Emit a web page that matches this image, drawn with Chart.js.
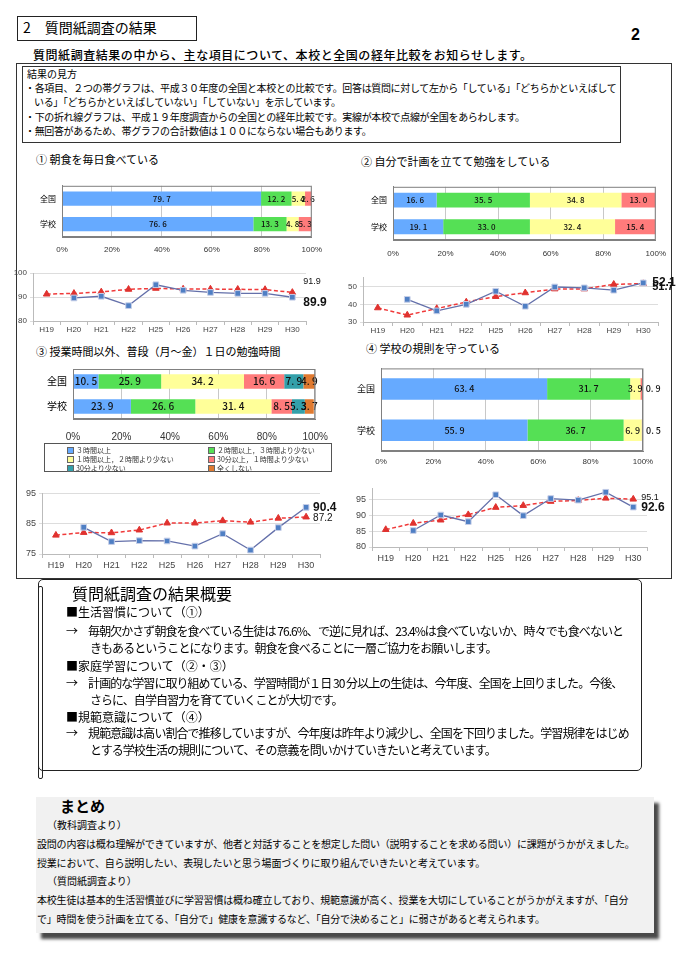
<!DOCTYPE html>
<html lang="ja">
<head>
<meta charset="utf-8">
<script src="https://cdn.jsdelivr.net/npm/chart.js@4/dist/chart.umd.min.js"></script>
<style>
body{margin:0;width:684px;height:965px;position:relative;background:#fff;font-family:"Noto Sans CJK JP",sans-serif;color:#000;overflow:hidden}
.a{position:absolute;white-space:nowrap;line-height:1}
.cv{position:absolute}
.lg{position:absolute;left:44px;top:443px;width:286px;height:27px;border:1px solid #555;font-size:7px;color:#333}
.lg span{position:absolute;white-space:nowrap;line-height:9px}
.lg i{display:inline-block;width:5px;height:5px;margin-right:2px;border:1px solid #666;vertical-align:-1px}
.t10{font-size:10px}
.t12{font-size:12px}
.s{letter-spacing:-0.95px}
.m{letter-spacing:-0.2px}
</style>
</head>
<body>
<script>
// rows of every bar chart
const rowLabels = ['全国', '学校'];
const years = ['H19', 'H20', 'H21', 'H22', 'H25', 'H26', 'H27', 'H28', 'H29', 'H30'];

// ① 朝食を毎日食べている
const q1National = [79.7, 12.2, 5.4, 2.6];
const q1School = [76.6, 13.3, 4.8, 5.3];
const q1TrendSchool = [null, 89.6, 90.3, 86.4, 95.1, 92.8, 91.9, 91.5, 91.5, 89.9];
const q1TrendNational = [91.2, 91.5, 92.1, 93.2, 93.6, 93.3, 93.3, 93.2, 93.1, 91.9];

// ② 自分で計画を立てて勉強をしている
const q2National = [16.6, 35.5, 34.8, 13.0];
const q2School = [19.1, 33.0, 32.4, 15.4];
const q2TrendSchool = [null, 42.8, 36.3, 40.0, 47.4, 38.9, 49.8, 49.3, 48.0, 52.1];
const q2TrendNational = [38.0, 33.9, 37.6, 41.3, 44.4, 46.5, 48.7, 48.7, 51.3, 51.7];

// ③ 1日の勉強時間
const q3Answers = ['３時間以上', '２時間以上，３時間より少ない', '１時間以上，２時間より少ない', '30分以上，１時間より少ない', '30分より少ない', '全くしない'];
const q3National = [10.5, 25.9, 34.2, 16.6, 7.9, 4.9];
const q3School = [23.9, 26.6, 31.4, 8.5, 5.3, 3.7];
const q3TrendSchool = [null, 83.8, 79.1, 79.4, 79.3, 77.6, 81.7, 76.3, 83.7, 90.4];
const q3TrendNational = [81.2, 82.1, 82.0, 82.9, 85.2, 85.2, 86.0, 85.5, 86.8, 87.2];

// ④ 学校の規則を守っている
const q4National = [63.4, 31.7, 3.9, 0.9];
const q4School = [55.9, 36.7, 6.9, 0.5];
const q4TrendSchool = [null, 85.2, 90.1, 88.0, 96.5, 89.9, 95.3, 94.8, 97.3, 92.6];
const q4TrendNational = [85.5, 87.5, 88.5, 90.2, 92.5, 93.1, 94.4, 94.7, 95.4, 95.1];

const barColors = ['#66aaff', '#55e055', '#ffff99', '#ff7b7b', '#33a0aa', '#e07a30'];
const numFont = '"Liberation Sans", Arial, sans-serif';

function fmt(v) { return v.toFixed(1).replace('.', '. '); }

const plotFrame = {
  id: 'plotFrame',
  afterDraw(chart) {
    const a = chart.chartArea, ctx = chart.ctx;
    ctx.save();
    ctx.strokeStyle = '#808080';
    ctx.lineWidth = 1;
    ctx.strokeRect(a.left + 0.5, a.top + 0.5, a.right - a.left - 1, a.bottom - a.top - 1);
    ctx.restore();
  }
};

function valueLabels(size) {
  return {
    id: 'valueLabels',
    afterDatasetsDraw(chart) {
      const ctx = chart.ctx;
      ctx.save();
      ctx.font = '500 ' + size + 'px "Noto Sans CJK JP", monospace';
      ctx.fillStyle = '#111';
      ctx.textBaseline = 'middle';
      chart.data.datasets.forEach((ds, i) => {
        chart.getDatasetMeta(i).data.forEach((bar, j) => {
          const v = ds.data[j];
          if (v < 1.5) {
            ctx.textAlign = 'left';
            ctx.fillText(fmt(v), bar.x + 3, bar.y);
          } else {
            ctx.textAlign = 'center';
            ctx.fillText(fmt(v), (bar.x + bar.base) / 2, bar.y);
          }
        });
      });
      ctx.restore();
    }
  };
}

function barChart(id, national, school, o) {
  const datasets = national.map((v, i) => ({
    label: 'a' + i,
    data: [v, school[i]],
    backgroundColor: barColors[i],
    borderWidth: 0,
    barPercentage: o.bar,
    categoryPercentage: 1
  }));
  new Chart(document.getElementById(id), {
    type: 'bar',
    data: { labels: rowLabels, datasets },
    options: {
      indexAxis: 'y',
      responsive: true,
      maintainAspectRatio: false,
      animation: false,
      layout: { padding: { top: o.top, right: o.right, left: 0, bottom: 0 } },
      plugins: { legend: { display: false }, tooltip: { enabled: false } },
      scales: {
        x: {
          stacked: true, min: 0, max: 100,
          ticks: { stepSize: 20, callback: v => v + '%', font: { size: o.tick, family: numFont }, color: '#333', padding: o.pad, maxRotation: 0 },
          grid: { color: '#c8c8c8', drawTicks: false },
          border: { color: '#808080' },
          afterFit: s => { s.height = o.xh; }
        },
        y: {
          stacked: true,
          ticks: { font: { size: o.cat, family: '"Noto Sans CJK JP"' }, color: '#000', padding: 6 },
          grid: { display: false, drawTicks: false },
          border: { color: '#808080' },
          afterFit: s => { s.width = o.yw; }
        }
      }
    },
    plugins: [plotFrame, valueLabels(o.val)]
  });
}

function endLabels(specs) {
  return {
    id: 'endLabels',
    afterDatasetsDraw(chart) {
      const ctx = chart.ctx;
      specs.forEach(s => {
        const data = chart.data.datasets[s.ds].data;
        const p = chart.getDatasetMeta(s.ds).data[data.length - 1];
        ctx.save();
        ctx.font = s.font;
        ctx.fillStyle = '#111';
        ctx.textAlign = 'left';
        ctx.textBaseline = 'middle';
        ctx.fillText(data[data.length - 1].toFixed(1), p.x + s.dx, p.y + s.dy);
        ctx.restore();
      });
    }
  };
}

function lineChart(id, school, national, o) {
  new Chart(document.getElementById(id), {
    type: 'line',
    data: {
      labels: years,
      datasets: [{
        label: '本校',
        data: school,
        borderColor: '#6470aa',
        borderWidth: 1.3,
        pointStyle: 'rect',
        pointRadius: 4,
        pointBackgroundColor: '#4f7fc4',
        pointBorderColor: '#c7cfe8',
        pointBorderWidth: 1,
        tension: 0
      }, {
        label: '全国',
        data: national,
        borderColor: '#f03a3a',
        borderWidth: 1.5,
        borderDash: [4, 2.5],
        pointStyle: 'triangle',
        pointRadius: 3.8,
        pointBackgroundColor: '#e0322f',
        pointBorderColor: '#e0322f',
        pointBorderWidth: 1,
        tension: 0
      }]
    },
    options: {
      responsive: true,
      maintainAspectRatio: false,
      animation: false,
      layout: { padding: { top: o.top, right: o.right, left: 0, bottom: 0 } },
      plugins: { legend: { display: false }, tooltip: { enabled: false } },
      scales: {
        x: {
          offset: true,
          ticks: { font: { size: o.tick, family: numFont }, color: '#444', padding: o.pad, maxRotation: 0, autoSkip: false },
          grid: { drawOnChartArea: false, offset: true, tickLength: 4, color: '#bbbbbb' },
          border: { color: '#bbbbbb' },
          afterFit: s => { s.height = o.xh; }
        },
        y: {
          min: o.min, max: o.max,
          ticks: { stepSize: o.step, font: { size: o.tick, family: numFont }, color: '#444', padding: 3 },
          afterBuildTicks: s => { s.ticks = s.ticks.filter(t => (t.value - o.min) % o.step === 0); },
          grid: { color: '#dddddd', tickLength: 3 },
          border: { color: '#bbbbbb' },
          afterFit: s => { s.width = o.yw; }
        }
      }
    },
    plugins: [endLabels(o.labels)]
  });
}
</script>

<!-- heading -->
<div class="a" style="left:17px;top:16px;width:178px;height:23px;border:1px solid #222;"></div>
<div class="a" style="left:23px;top:20px;font-size:14px;">2　質問紙調査の結果</div>
<div class="a" style="left:631px;top:27px;font-size:16px;font-weight:bold;font-family:'Liberation Sans',Arial,sans-serif;">2</div>
<div class="a" style="left:33px;top:49px;font-size:12px;font-weight:500;letter-spacing:0.55px;">質問紙調査結果の中から、主な項目について、本校と全国の経年比較をお知らせします。</div>

<div class="a" style="left:16px;top:63px;width:654px;height:514px;border:1px solid #333;"></div>
<div class="a" style="left:22px;top:66px;width:597px;height:75px;border:1px solid #333;"></div>
<div class="a t10" style="left:27px;top:69px;">結果の見方</div>
<div class="a t10" style="left:25px;top:83px;letter-spacing:-0.35px;">・各項目、２つの帯グラフは、平成３０年度の全国と本校との比較です。回答は質問に対して左から「している」「どちらかといえばして</div>
<div class="a t10" style="left:34px;top:97px;letter-spacing:-0.35px;">いる」「どちらかといえばしていない」「していない」を示しています。</div>
<div class="a t10" style="left:25px;top:112px;letter-spacing:-0.35px;">・下の折れ線グラフは、平成１９年度調査からの全国との経年比較です。実線が本校で点線が全国をあらわします。</div>
<div class="a t10" style="left:25px;top:126px;letter-spacing:-0.35px;">・無回答があるため、帯グラフの合計数値は１００にならない場合もあります。</div>

<!-- chart titles -->
<div class="a" style="left:36px;top:154px;font-size:11px;">① 朝食を毎日食べている</div>
<div class="a" style="left:361px;top:156px;font-size:11px;">② 自分で計画を立てて勉強をしている</div>
<div class="a" style="left:36px;top:346px;font-size:11px;">③ 授業時間以外、普段（月～金）１日の勉強時間</div>
<div class="a" style="left:366px;top:343px;font-size:11px;">④ 学校の規則を守っている</div>

<div class="cv" style="left:20px;top:175px;width:310px;height:82px;"><canvas id="bar1"></canvas></div>
<div class="cv" style="left:350px;top:176px;width:325px;height:85px;"><canvas id="bar2"></canvas></div>
<div class="cv" style="left:25px;top:357px;width:315px;height:90px;"><canvas id="bar3"></canvas></div>
<div class="cv" style="left:340px;top:357px;width:340px;height:112px;"><canvas id="bar4"></canvas></div>
<div class="lg" id="legend3"></div>

<div class="cv" style="left:0px;top:265px;width:340px;height:70px;"><canvas id="line1"></canvas></div>
<div class="cv" style="left:340px;top:270px;width:344px;height:66px;"><canvas id="line2"></canvas></div>
<div class="cv" style="left:0px;top:485px;width:340px;height:86px;"><canvas id="line3"></canvas></div>
<div class="cv" style="left:340px;top:480px;width:344px;height:85px;"><canvas id="line4"></canvas></div>

<!-- summary -->
<div class="a" style="left:38px;top:579px;width:602px;height:190px;border:1.5px solid #222;border-radius:5px;"></div>
<div class="a" style="left:38px;top:586px;width:3px;height:191px;border:1px solid #222;border-radius:2px;"></div>
<div class="a" style="left:72px;top:585px;font-size:16px;">質問紙調査の結果概要</div>
<div class="a t12" style="left:66px;top:606px;">■生活習慣について（①）</div>
<div class="a t12 s" style="left:66px;top:625px;">→　毎朝欠かさず朝食を食べている生徒は 76.6%、で逆に見れば、23.4%は食べていないか、時々でも食べないと</div>
<div class="a t12 s" style="left:90px;top:642px;">きもあるということになります。朝食を食べることに一層ご協力をお願いします。</div>
<div class="a t12" style="left:66px;top:660px;">■家庭学習について（②・③）</div>
<div class="a t12 s" style="left:66px;top:677px;">→　計画的な学習に取り組めている、学習時間が１日 30 分以上の生徒は、今年度、全国を上回りました。今後、</div>
<div class="a t12 s" style="left:90px;top:694px;">さらに、自学自習力を育てていくことが大切です。</div>
<div class="a t12" style="left:66px;top:711px;">■規範意識について（④）</div>
<div class="a t12 s" style="left:66px;top:727px;">→　規範意識は高い割合で推移していますが、今年度は昨年より減少し、全国を下回りました。学習規律をはじめ</div>
<div class="a t12 s" style="left:90px;top:744px;">とする学校生活の規則について、その意義を問いかけていきたいと考えています。</div>

<!-- matome -->
<div class="a" style="left:36px;top:797px;width:618px;height:136px;background:#f1f1f1;box-shadow:5px 6px 3px #4a4a4a;"></div>
<div class="a" style="left:60px;top:798px;font-size:15px;font-weight:bold;">まとめ</div>
<div class="a t10" style="left:47px;top:820px;">（教科調査より）</div>
<div class="a t10 m" style="left:37px;top:839px;">設問の内容は概ね理解ができていますが、他者と対話することを想定した問い（説明することを求める問い）に課題がうかがえました。</div>
<div class="a t10 m" style="left:37px;top:858px;">授業において、自ら説明したい、表現したいと思う場面づくりに取り組んでいきたいと考えています。</div>
<div class="a t10" style="left:47px;top:876px;">（質問紙調査より）</div>
<div class="a t10 m" style="left:37px;top:895px;">本校生徒は基本的生活習慣並びに学習習慣は概ね確立しており、規範意識が高く、授業を大切にしていることがうかがえますが、「自分</div>
<div class="a t10 m" style="left:37px;top:914px;">で」時間を使う計画を立てる、「自分で」健康を意識するなど、「自分で決めること」に弱さがあると考えられます。</div>

<script>
barChart('bar1', q1National, q1School, { bar: 0.56, top: 5, right: 18, yw: 42, xh: 20, pad: 8, tick: 8, cat: 8, val: 8 });
barChart('bar2', q2National, q2School, { bar: 0.56, top: 5, right: 18, yw: 43, xh: 21, pad: 9, tick: 8, cat: 8, val: 8 });
barChart('bar3', q3National, q3School, { bar: 0.58, top: 5, right: 18, yw: 48, xh: 28, pad: 12, tick: 10, cat: 10, val: 10 });
barChart('bar4', q4National, q4School, { bar: 0.52, top: 5, right: 37, yw: 41, xh: 18, pad: 6, tick: 8, cat: 9, val: 9 });

// legend of ③, built from the answer list
const lg = document.getElementById('legend3');
const lgX = [22, 163], lgY = [3, 12, 21];
q3Answers.forEach((t, i) => {
  const s = document.createElement('span');
  s.style.left = lgX[i % 2] + 'px';
  s.style.top = lgY[Math.floor(i / 2)] - 1 + 'px';
  s.innerHTML = '<i style="background:' + barColors[i] + '"></i>' + t;
  lg.appendChild(s);
});

const bold12 = 'bold 12px "Liberation Sans", Arial, sans-serif';
const norm9 = '9px "Liberation Sans", Arial, sans-serif';
lineChart('line1', q1TrendSchool, q1TrendNational, { min: 80, max: 100, step: 5, top: 8, right: 34, yw: 33, xh: 14, pad: 0, tick: 8,
  labels: [{ ds: 1, dx: 11, dy: -11, font: norm9 }, { ds: 0, dx: 11, dy: 5, font: bold12 }] });
lineChart('line2', q2TrendSchool, q2TrendNational, { min: 30, max: 55, step: 10, top: 7, right: 26, yw: 23, xh: 14, pad: 0, tick: 8,
  labels: [{ ds: 1, dx: 9, dy: 3, font: 'bold 11px "Liberation Sans", Arial, sans-serif' }, { ds: 0, dx: 9, dy: 0, font: bold12 }] });
lineChart('line3', q3TrendSchool, q3TrendNational, { min: 75, max: 95, step: 10, top: 6, right: 20, yw: 42, xh: 17, pad: 2, tick: 9,
  labels: [{ ds: 0, dx: 7, dy: 0, font: bold12 }, { ds: 1, dx: 7, dy: 1, font: '10px "Liberation Sans", Arial, sans-serif' }] });
lineChart('line4', q4TrendSchool, q4TrendNational, { min: 80, max: 98.5, step: 5, top: 4, right: 37, yw: 32, xh: 18, pad: 2, tick: 9,
  labels: [{ ds: 1, dx: 8, dy: -2, font: norm9 }, { ds: 0, dx: 8, dy: 0.5, font: bold12 }] });
</script>
</body>
</html>
